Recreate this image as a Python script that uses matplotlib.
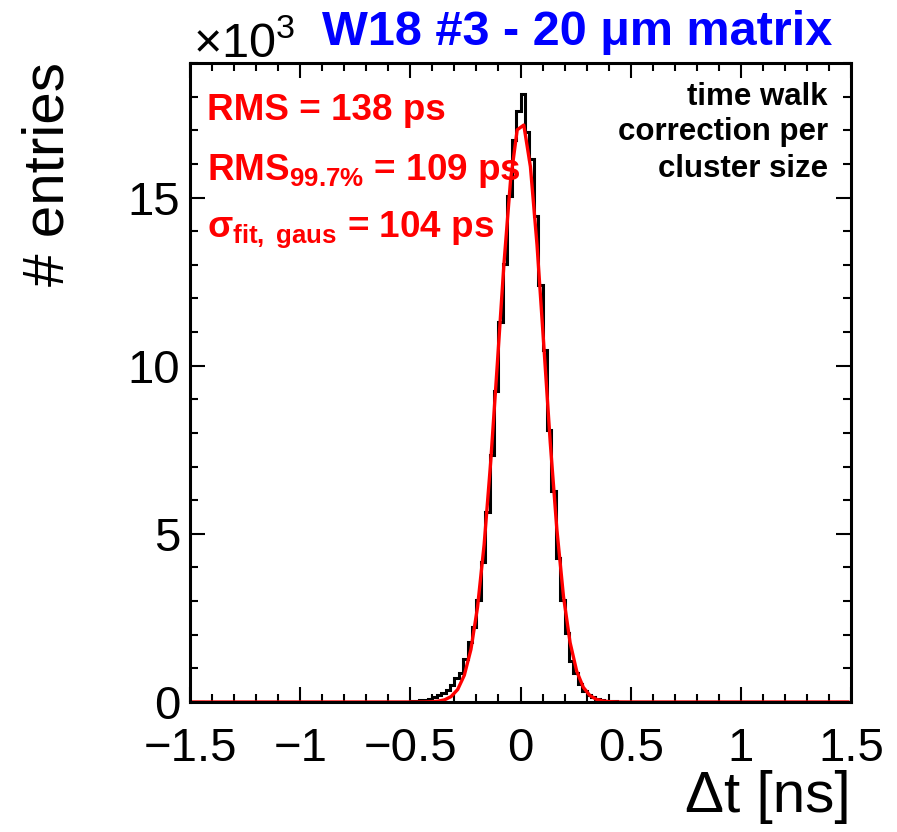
import numpy as np
import matplotlib
matplotlib.use("Agg")
import matplotlib.pyplot as plt
from matplotlib.ticker import MultipleLocator, FuncFormatter

plt.rcParams["font.family"] = ["Liberation Sans", "DejaVu Sans"]
plt.rcParams["mathtext.fontset"] = "custom"
plt.rcParams["mathtext.rm"] = "Liberation Sans"
plt.rcParams["mathtext.bf"] = "Liberation Sans:bold"
plt.rcParams["mathtext.it"] = "Liberation Sans:italic"

# histogram: 20 ps bins from -1.5 to 1.5 ns, only the filled part is listed
x_min, x_max, bin_width = -1.5, 1.5, 0.02
first_filled_bin = -0.50
entries = [
    20, 30, 50, 70, 100, 140, 210, 270, 370, 500,
    700, 850, 1280, 1780, 2220, 3040, 4160, 5660, 7350, 9240,
    11310, 13020, 15040, 16720, 17570, 18070, 16940, 16140, 14450, 12400,
    10470, 8100, 6260, 4280, 3040, 2040, 1220, 850, 550, 340,
    210, 140, 100, 60, 40, 30, 20, 10,
]

# gaussian fit parameters
gaus_amp = 17270
gaus_mean = 0.003
gaus_sigma = 0.104

n_bins = int(round((x_max - x_min) / bin_width))
edges = np.linspace(x_min, x_max, n_bins + 1)
counts = np.zeros(n_bins)
start = int(round((first_filled_bin - x_min) / bin_width))
counts[start:start + len(entries)] = entries

fig = plt.figure(figsize=(8.97, 8.32), dpi=100)
ax = fig.add_axes([190 / 897, 1 - 702 / 832, 661 / 897, 639 / 832])

ax.stairs(counts / 1000, edges, color="black", lw=2.2)

# ROOT samples the fit function at 100 points
xf = np.linspace(x_min + 0.015, x_max - 0.015, 100)
yf = gaus_amp * np.exp(-0.5 * ((xf - gaus_mean) / gaus_sigma) ** 2)
ax.plot(xf, yf / 1000, color="red", lw=2.4)

ax.set_xlim(x_min, x_max)
ax.set_ylim(0, 19.0)
ax.xaxis.set_major_locator(MultipleLocator(0.5))
ax.xaxis.set_minor_locator(MultipleLocator(0.1))
ax.yaxis.set_major_locator(MultipleLocator(5))
ax.yaxis.set_minor_locator(MultipleLocator(1))
ax.xaxis.set_major_formatter(FuncFormatter(lambda v, p: f"{v:g}".replace("-", "\u2212")))
ax.yaxis.set_major_formatter(FuncFormatter(lambda v, p: f"{v:g}"))
ax.tick_params(which="both", direction="in", top=True, right=True, width=1.5)
ax.tick_params(which="major", length=11, labelsize=34)
ax.tick_params(which="minor", length=6)
ax.tick_params(axis="x", which="major", pad=18)
ax.tick_params(axis="y", which="major", pad=7)
for s in ax.spines.values():
    s.set_linewidth(2.2)

# labels
fig.text(48 / 897, 1 - 62 / 832, "# entries", rotation=90, ha="center", va="top", fontsize=42)
fig.text(851 / 897, 1 - 812 / 832, "Δt [ns]", ha="right", va="baseline", fontsize=42)
fig.text(193 / 897, 1 - 57 / 832, r"$\times10^{3}$", ha="left", va="baseline", fontsize=35)
fig.text(832 / 897, 1 - 45 / 832, "W18 #3 - 20 μm matrix", ha="right", va="baseline",
         fontsize=35, fontweight="bold", color="#0000ff")

# red statistics text
red_lines = [
    (0.911, "RMS = 138 ps"),
    (0.817, r"RMS$_{\mathbf{99.7\%}}$ = 109 ps"),
    (0.728, r"σ$_{\mathbf{fit,\ gaus}}$ = 104 ps"),
]
for yy, txt in red_lines:
    ax.text(0.026, yy, txt, transform=ax.transAxes, ha="left", va="baseline",
            fontsize=26.6, fontweight="bold", color="red")

# black annotation
note_lines = [(0.934, "time walk"), (0.8795, "correction per"), (0.822, "cluster size")]
for yy, txt in note_lines:
    ax.text(0.965, yy, txt, transform=ax.transAxes, ha="right", va="baseline",
            fontsize=22.5, fontweight="bold", color="black")

fig.savefig("out.png", dpi=100)
